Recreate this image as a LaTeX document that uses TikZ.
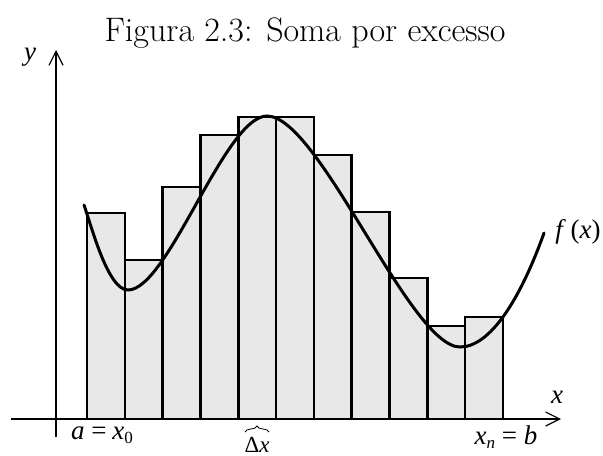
\documentclass[tikz,border=0pt]{standalone}
\usepackage{fontspec}
\newfontfamily\lblfont{Liberation Serif}[ItalicFont={Liberation Serif Italic}]
\usetikzlibrary{arrows.meta,decorations.pathreplacing}
\tikzset{
  bar/.style={draw=black, fill=black!9, line width=1.3pt},
  curve/.style={line width=1.5pt, line cap=round},
  axis/.style={line width=0.6pt, -{Straight Barb[length=7pt,width=7pt,line width=0.6pt]}},
  lbl/.style={inner sep=0pt, font=\lblfont\fontsize{13.5}{16}\selectfont}
}
\newcommand{\lowsub}[1]{\raisebox{-0.4ex}{\fontsize{8.5}{10}\selectfont #1}}

\begin{document}
\begin{tikzpicture}[x=0.5pt, y=-0.5pt]
  \useasboundingbox (0,0) rectangle (603,455);
  \node [anchor=base] (title) at (305,41) {\fontsize{17}{20}\selectfont Figura 2.3: Soma por excesso};
  % axes
  \coordinate (xstart) at (11,419);
  \coordinate (xend) at (561,419);
  \coordinate (ystart) at (56,437);
  \coordinate (yend) at (56,50);
  \draw [axis] (xstart) -- (xend);
  \draw [axis] (ystart) -- (yend);
  % bars (upper sum)
  \foreach \h [count=\i from 0] in {213,260,187,135,117,117,155,212,278,326,317}
    \draw [bar] ({87+37.8*\i},419) rectangle ({87+37.8*(\i+1)},\h);
  % f(x)
  \draw [curve] (84,205) .. controls (92,228) and (108,290) .. (128,290)
    .. controls (168,290) and (225,116) .. (267,116)
    .. controls (319,116) and (410,347) .. (460,347)
    .. controls (490,347) and (520,300) .. (544,233);
  % labels
  \node [lbl] (ylbl) at (30,57) {\textit{y}};
  \node [lbl] (xlbl) at (557,397) {\textit{x}};
  \node [lbl] (fx) at (578,232) {\textit{f}\,(\textit{x})};
  \node [lbl, anchor=base] (albl) at (102,439) {\textit{a}\hspace{0.25em}=\hspace{0.22em}\textit{x}\lowsub{0}};
  \node [lbl, anchor=base] (blbl) at (506,444) {\textit{x}\lowsub{\textit{n}}\hspace{0.25em}=\hspace{0.25em}\textit{b}};
  \node [lbl, anchor=base, font=\lblfont\fontsize{11.5}{14}\selectfont] (dx) at (257,452) {Δ\textit{x}};
  \coordinate (bl) at (245,432);
  \coordinate (br) at (269,432);
  \draw [decorate, decoration={brace, amplitude=3pt}] (bl) -- (br);
\end{tikzpicture}
\end{document}
